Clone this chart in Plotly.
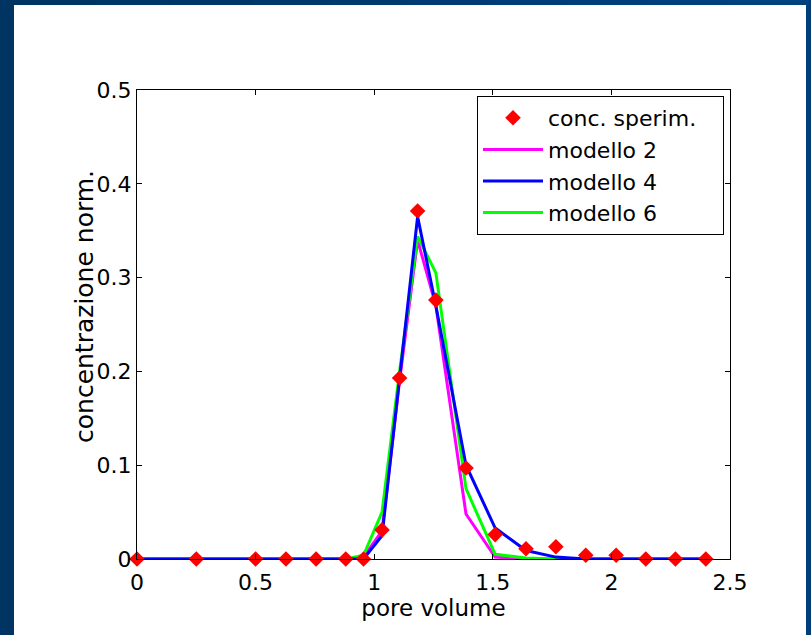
import plotly.graph_objects as go

# ---- data ----
pore_volume = [0, 0.25, 0.5, 0.628, 0.755, 0.88, 0.955, 1.033, 1.107, 1.183,
               1.26, 1.387, 1.51, 1.64, 1.766, 1.892, 2.02, 2.145, 2.27, 2.398]
conc_sperim = [0, 0, 0, 0, 0, 0, 0, 0.031, 0.193, 0.371,
               0.276, 0.097, 0.026, 0.011, 0.013, 0.004, 0.004, 0, 0, 0]
modello_2 = [0, 0, 0, 0, 0, 0, 0.002, 0.03, 0.19, 0.34,
             0.27, 0.048, 0.002, 0, 0, 0, 0, 0, 0, 0]
modello_4 = [0, 0, 0, 0, 0, 0, 0, 0.025, 0.19, 0.365,
             0.27, 0.1, 0.033, 0.009, 0.002, 0, 0, 0, 0, 0]
modello_6 = [0, 0, 0, 0, 0, 0, 0.004, 0.05, 0.2, 0.344,
             0.305, 0.075, 0.005, 0.001, 0, 0, 0, 0, 0, 0]

x_ticks = [0, 0.5, 1, 1.5, 2, 2.5]
x_ticktext = ["0", "0.5", "1", "1.5", "2", "2.5"]
y_ticks = [0, 0.1, 0.2, 0.3, 0.4, 0.5]
y_ticktext = ["0", "0.1", "0.2", "0.3", "0.4", "0.5"]

W, H = 811, 635
L, R, T, B = 137, 81, 90, 76
PW, PH = W - L - R, H - T - B
FONT = "DejaVu Sans"
PAD = "\u00a0\u00a0\u00a0"  # invisible right padding inside legend box


def px(xp):
    return (xp - L) / PW


def py(yp):
    return (H - B - yp) / PH


fig = go.Figure()
fig.add_trace(go.Scatter(x=pore_volume, y=modello_2, mode="lines", name="modello 2",
                         line=dict(color="#ff00ff", width=3), legendrank=2))
fig.add_trace(go.Scatter(x=pore_volume, y=modello_6, mode="lines", name="modello 6",
                         line=dict(color="#00ff00", width=3), legendrank=4))
fig.add_trace(go.Scatter(x=pore_volume, y=modello_4, mode="lines", name="modello 4",
                         line=dict(color="#0000ff", width=3), legendrank=3))
fig.add_trace(go.Scatter(x=pore_volume, y=conc_sperim, mode="markers", name="conc. sperim." + PAD,
                         marker=dict(symbol="diamond", size=12, color="#ff0000"),
                         cliponaxis=False, legendrank=1))

shapes = []
# frame border (navy, gradient on top)
shapes.append(dict(type="rect", xref="paper", yref="paper", x0=px(0), x1=px(14),
                   y0=py(H), y1=py(0), fillcolor="#003462", line_width=0, layer="above"))
shapes.append(dict(type="rect", xref="paper", yref="paper", x0=px(W - 5), x1=px(W),
                   y0=py(H), y1=py(0), fillcolor="#003f7c", line_width=0, layer="above"))
n = 10
c0 = (0x00, 0x34, 0x62)
c1 = (0x00, 0x42, 0x80)
for i in range(n):
    t = i / (n - 1)
    col = "rgb(%d,%d,%d)" % tuple(round(a + (b - a) * t) for a, b in zip(c0, c1))
    shapes.append(dict(type="rect", xref="paper", yref="paper",
                       x0=px(14 + (W - 19) * i / n), x1=px(14 + (W - 19) * (i + 1) / n + 1),
                       y0=py(5), y1=py(0), fillcolor=col, line_width=0, layer="above"))

fig.update_layout(
    width=W, height=H, autosize=False,
    margin=dict(l=L, r=R, t=T, b=B, pad=0),
    paper_bgcolor="white", plot_bgcolor="white",
    font=dict(family=FONT, size=22, color="black"),
    showlegend=True,
    legend=dict(x=px(477), y=py(96), xanchor="left", yanchor="top",
                bgcolor="white", bordercolor="black", borderwidth=1,
                font=dict(family=FONT, size=22, color="black"),
                itemwidth=60, traceorder="normal"),
    shapes=shapes,
    annotations=[dict(text="concentrazione norm.", xref="paper", yref="paper",
                      x=px(84), y=py(307), xanchor="center", yanchor="middle",
                      textangle=-90, showarrow=False,
                      font=dict(family=FONT, size=25, color="black"))],
)
fig.update_xaxes(range=[0, 2.5], tickvals=x_ticks, ticktext=x_ticktext,
                 ticks="inside", ticklen=5, tickcolor="black", tickwidth=1,
                 showline=True, linecolor="black", linewidth=1, mirror="ticks",
                 showgrid=False, zeroline=False, ticklabelstandoff=4,
                 tickfont=dict(family=FONT, size=22, color="black"),
                 title=dict(text="pore volume", font=dict(family=FONT, size=23, color="black"),
                            standoff=2))
fig.update_yaxes(range=[0, 0.5], tickvals=y_ticks, ticktext=y_ticktext,
                 ticks="inside", ticklen=5, tickcolor="black", tickwidth=1,
                 showline=True, linecolor="black", linewidth=1, mirror="ticks",
                 showgrid=False, zeroline=False,
                 tickfont=dict(family=FONT, size=22, color="black"))

fig.write_html("out.html", config={"displayModeBar": False},
               post_script="document.body.style.margin='0';")
